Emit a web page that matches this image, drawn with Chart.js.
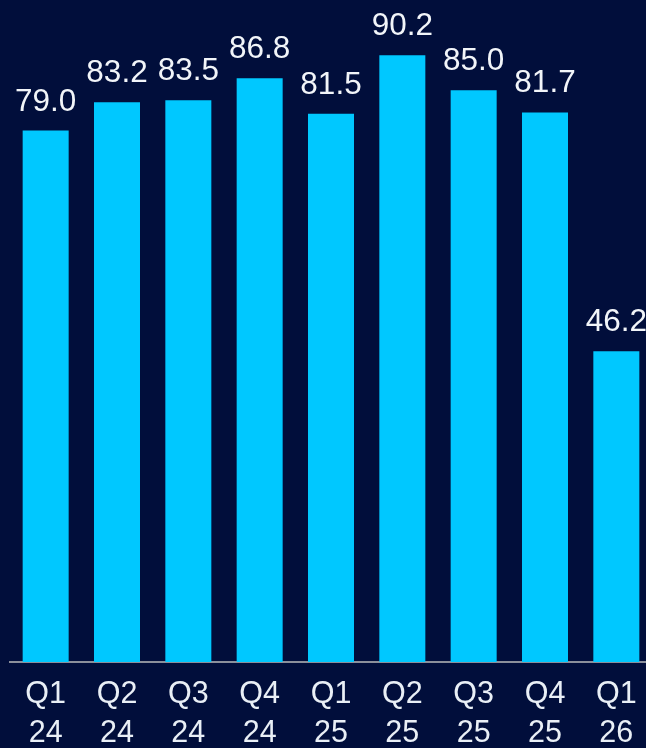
<!DOCTYPE html>
<html>
<head>
<meta charset="utf-8">
<script src="https://cdn.jsdelivr.net/npm/chart.js@4/dist/chart.umd.min.js"></script>
<style>
  html, body { margin: 0; padding: 0; background: #010e3b; overflow: hidden; }
  #wrap { width: 652px; height: 748px; }
</style>
</head>
<body>
<div id="wrap"><canvas id="c" width="652" height="748"></canvas></div>
<script>
// Quarterly values
const quarters = ['Q1', 'Q2', 'Q3', 'Q4', 'Q1', 'Q2', 'Q3', 'Q4', 'Q1'];
const years = ['24', '24', '24', '24', '25', '25', '25', '25', '26'];
const values = [79.0, 83.2, 83.5, 86.8, 81.5, 90.2, 85.0, 81.7, 46.2];

const labels = quarters.map((q, i) => [q, years[i]]);

const FONT = '"Liberation Sans", Arial, Helvetica, sans-serif';

// Value labels above each bar
const valueLabels = {
  id: 'valueLabels',
  afterDatasetsDraw(chart) {
    const ctx = chart.ctx;
    const meta = chart.getDatasetMeta(0);
    ctx.save();
    ctx.font = '31.5px ' + FONT;
    ctx.fillStyle = '#f2f5f9';
    ctx.textAlign = 'center';
    ctx.textBaseline = 'alphabetic';
    meta.data.forEach((bar, i) => {
      ctx.fillText(values[i].toFixed(1), bar.x, bar.y - 20);
    });
    ctx.restore();
  }
};

new Chart(document.getElementById('c'), {
  type: 'bar',
  data: {
    labels: labels,
    datasets: [{
      data: values,
      backgroundColor: '#00c8ff',
      borderWidth: 0,
      categoryPercentage: 1,
      barPercentage: 0.645
    }]
  },
  options: {
    responsive: false,
    animation: false,
    layout: { padding: { top: 23, left: 10, right: 0, bottom: 0 } },
    plugins: { legend: { display: false }, tooltip: { enabled: false } },
    scales: {
      x: {
        grid: { display: false, drawTicks: false },
        border: { display: true, color: '#8b8f9b', width: 2 },
        ticks: {
          color: '#e9eff6',
          padding: 14,
          maxRotation: 0,
          autoSkip: false,
          font: { family: FONT, size: 30.5, lineHeight: 1.25 }
        },
        afterFit(scale) { scale.height = 86; }
      },
      y: {
        display: false,
        min: 0,
        max: 95
      }
    }
  },
  plugins: [valueLabels]
});
</script>
</body>
</html>
